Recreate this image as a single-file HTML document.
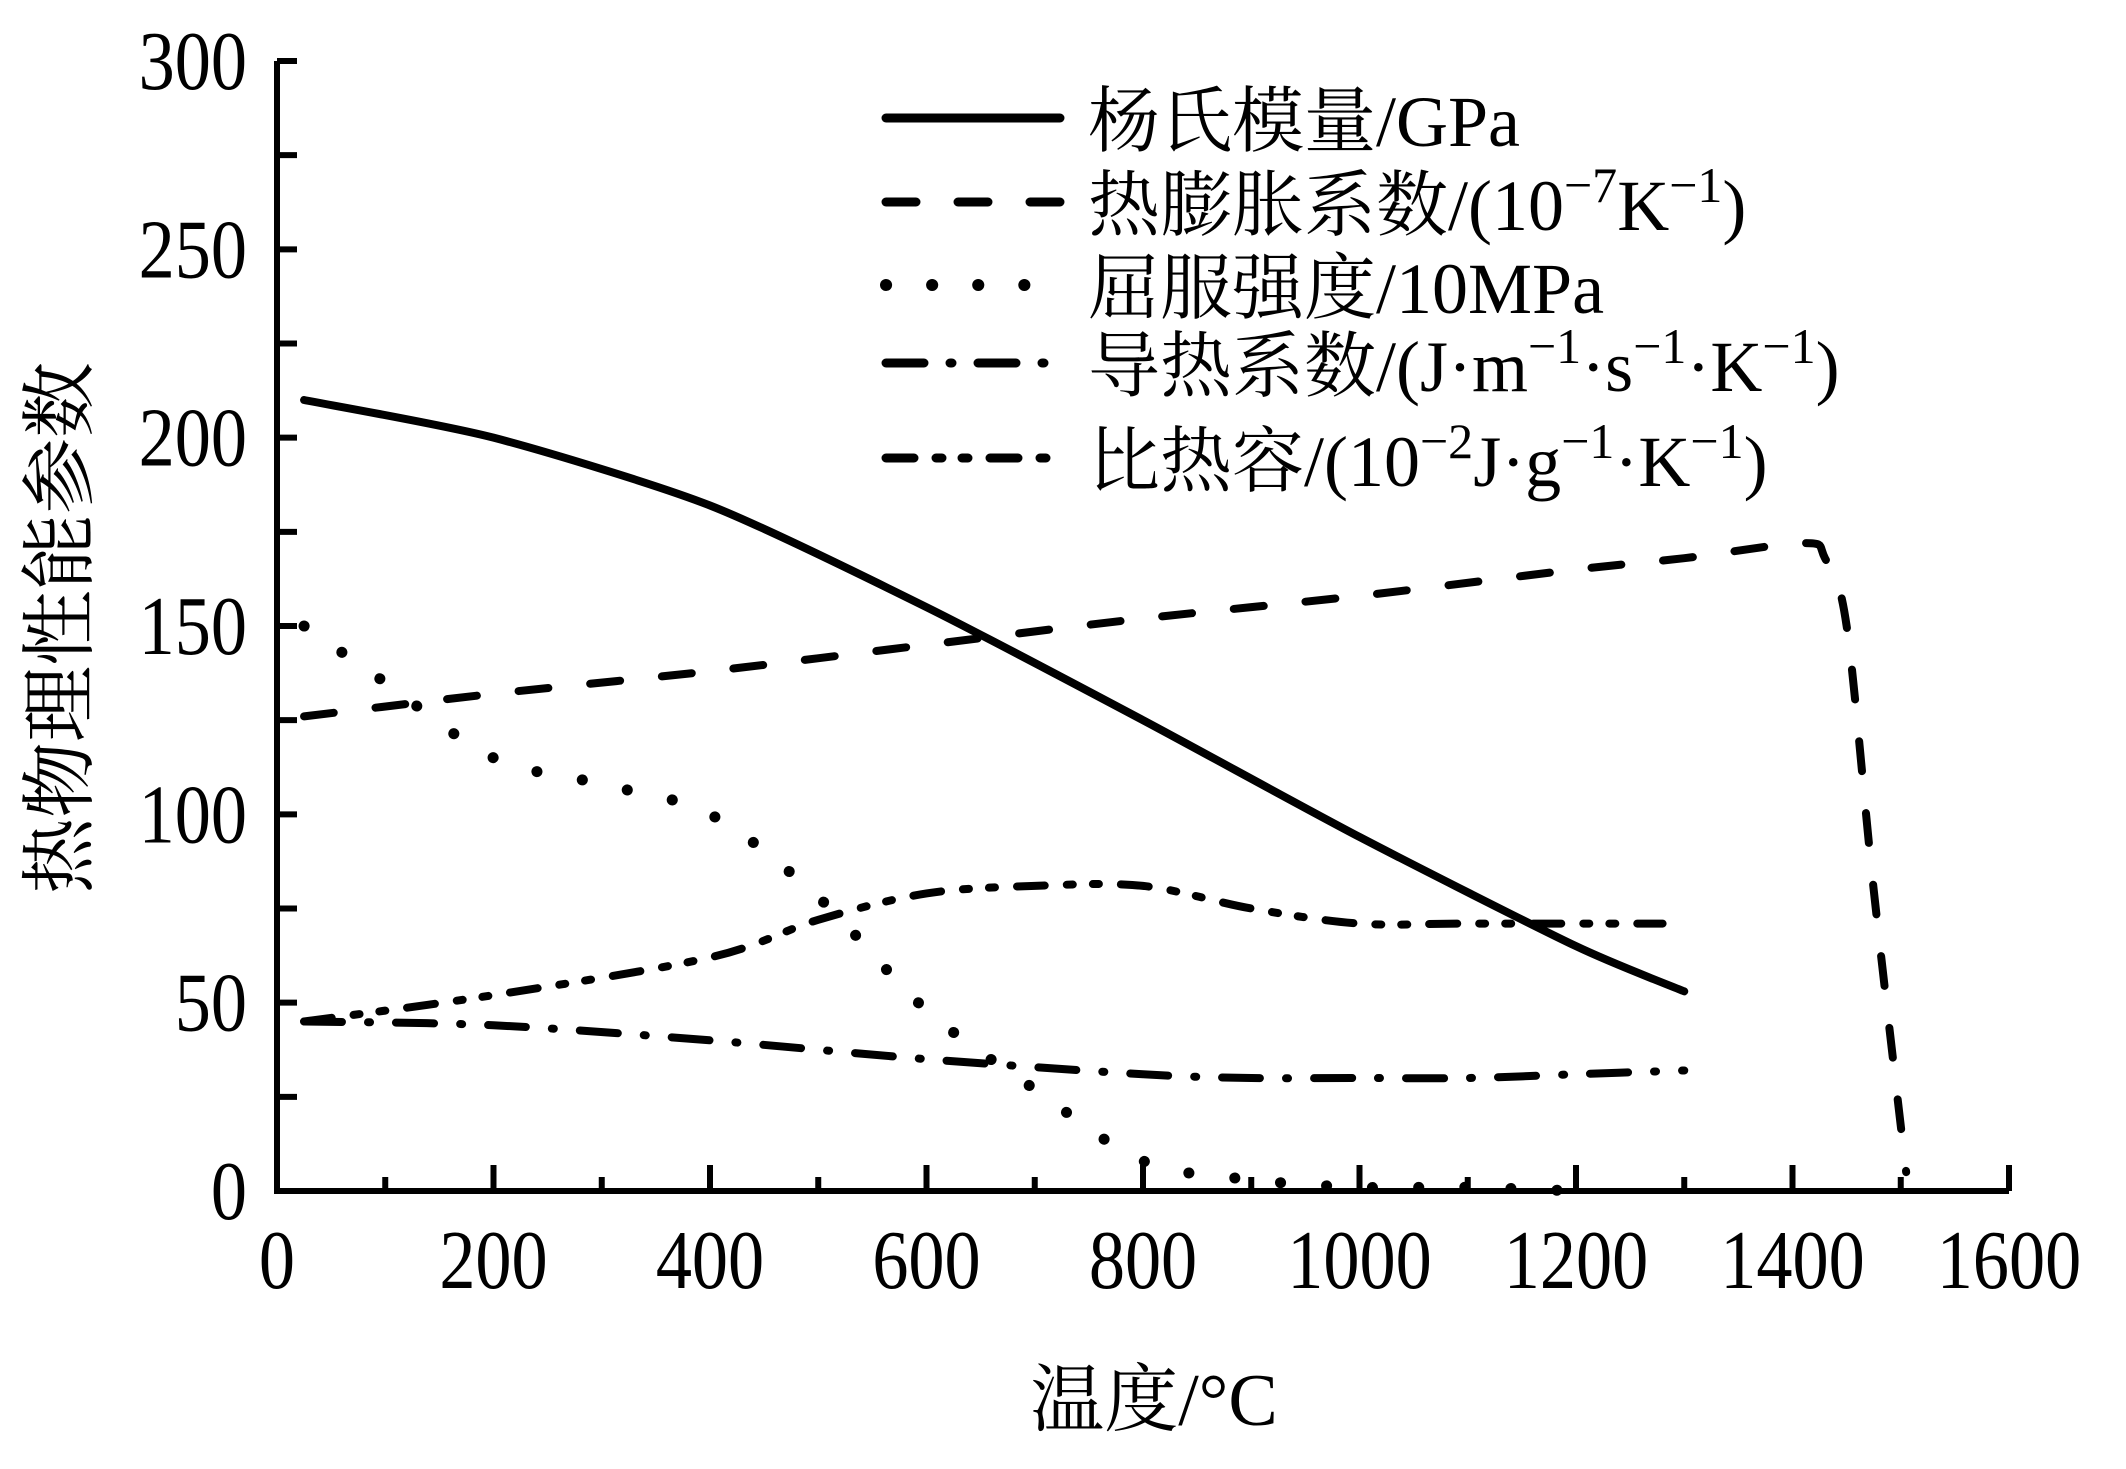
<!DOCTYPE html>
<html><head><meta charset="utf-8"><style>
html,body{margin:0;padding:0;background:#fff;}
svg{display:block;}
text{font-family:"Liberation Serif","Noto Serif CJK SC","Noto Sans CJK SC",serif;fill:#000;}
</style></head><body>
<svg id="chart" width="2126" height="1469" viewBox="0 0 2126 1469" xmlns="http://www.w3.org/2000/svg">
<g id="axes"></g>
<g id="series"></g>
<g id="legend"></g>
<text transform="translate(86,628) rotate(-90)" text-anchor="middle" font-size="76" font-family="Noto Serif CJK SC, Noto Sans CJK SC, serif">热物理性能参数</text>
<text x="1154" y="1425" text-anchor="middle" font-size="74">温度/°C</text>
</svg>
<script>
const xTicks=[0,200,400,600,800,1000,1200,1400,1600];
const yTicks=[0,50,100,150,200,250,300];
const youngX=[25,200,400,600,800,1000,1200,1300];
const youngY=[210,200,182,155,125,94,65,53];
const expX=[25,200,400,600,800,1000,1200,1300,1410,1430,1450,1475,1505];
const expY=[126,132,138,145,152,158,165,168,172,168,150,80,5];
const yieldX=[25,100,200,300,400,500,600,700,800,900,1000,1100,1200];
const yieldY=[150,135,115,108,100,78,48,27,8,3,1,1,0];
const condX=[25,200,400,600,800,900,1000,1100,1200,1300];
const condY=[45,44,40,35,31,30,30,30,31,32];
const heatX=[25,200,400,500,600,700,800,900,1000,1100,1280];
const heatY=[45,52,62,72,79,81,81,75,71,71,71];
const legendLabels=['杨氏模量/GPa','热膨胀系数/(10<tspan baseline-shift="super" font-size="50">−7</tspan>K<tspan baseline-shift="super" font-size="50">−1</tspan>)','屈服强度/10MPa','导热系数/(J·m<tspan baseline-shift="super" font-size="50">−1</tspan>·s<tspan baseline-shift="super" font-size="50">−1</tspan>·K<tspan baseline-shift="super" font-size="50">−1</tspan>)','比热容/(10<tspan baseline-shift="super" font-size="50">−2</tspan>J·g<tspan baseline-shift="super" font-size="50">−1</tspan>·K<tspan baseline-shift="super" font-size="50">−1</tspan>)'];

const X0=277,X1=2009,Y0=1191,Y1=61;
const sx=v=>X0+(v-0)/1600*(X1-X0);
const sy=v=>Y0-(v-0)/300*(Y0-Y1);
const NS='http://www.w3.org/2000/svg';
const SC=0.86;
function mk(tag,attrs,parent){const e=document.createElementNS(NS,tag);for(const k in attrs)e.setAttribute(k,attrs[k]);parent.appendChild(e);return e;}
const axes=document.getElementById('axes');
let a=mk('path',{d:`M${X0},${Y1} V${Y0} H${X1}`,fill:'none',stroke:'#000','stroke-width':6},axes);


for(let v=0;v<=300;v+=25){
  let t=mk('line',{x1:X0,x2:X0+20,y1:sy(v),y2:sy(v),stroke:'#000','stroke-width':6},axes);
  
  
}
yTicks.forEach(v=>{
  let t=mk('text',{x:(X0-30)/SC,y:sy(v)+28,'text-anchor':'end','font-size':84,transform:`scale(${SC},1)`},axes);
  
  
  t.textContent=v;
});
for(let v=0;v<=1600;v+=100){
  const len=(v%200===0)?26:14;
  let t=mk('line',{x1:sx(v),x2:sx(v),y1:Y0,y2:Y0-len,stroke:'#000','stroke-width':6},axes);
  
  
}
xTicks.forEach(v=>{
  let t=mk('text',{x:sx(v)/SC,y:Y0+97,'text-anchor':'middle','font-size':84,transform:`scale(${SC},1)`},axes);
  
  
  t.textContent=v;
});
const styles=[
  {name:'youngs-modulus-line',dash:'',xs:youngX,ys:youngY,w:8,t:0.12},
  {name:'thermal-expansion-line',dash:'30 42',xs:expX,ys:expY,w:8,t:0.16},
  {name:'yield-strength-line',dash:'0.1 46',xs:yieldX,ys:yieldY,w:11,t:0.16},
  {name:'thermal-conductivity-line',dash:'38 26 2 26',xs:condX,ys:condY,w:8,t:0.16},
  {name:'specific-heat-line',dash:'28 22 6 20 6 22',xs:heatX,ys:heatY,w:8,t:0.16}
];
const series=document.getElementById('series');
function smooth(xs,ys,k){
  const p=xs.map((x,i)=>[sx(x),sy(ys[i])]);
  let d=`M${p[0][0]},${p[0][1]}`;
  for(let i=0;i<p.length-1;i++){
    const p0=p[Math.max(0,i-1)],p1=p[i],p2=p[i+1],p3=p[Math.min(p.length-1,i+2)];
    const c1=[p1[0]+(p2[0]-p0[0])*k,p1[1]+(p2[1]-p0[1])*k];
    const c2=[p2[0]-(p3[0]-p1[0])*k,p2[1]-(p3[1]-p1[1])*k];
    d+=` C${c1[0]},${c1[1]} ${c2[0]},${c2[1]} ${p2[0]},${p2[1]}`;
  }
  return d;
}
styles.forEach(s=>{
  let p=mk('path',{d:smooth(s.xs,s.ys,s.t),fill:'none',stroke:'#000','stroke-width':s.w,'stroke-linecap':'round','stroke-linejoin':'round'},series);
  if(s.dash)p.setAttribute('stroke-dasharray',s.dash);
  
  
});
const legend=document.getElementById('legend');
const rowsY=[118,202,285,363,458];
styles.forEach((s,i)=>{
  let l=mk('line',{x1:886,x2:1060,y1:rowsY[i],y2:rowsY[i],stroke:'#000','stroke-width':s.w+1,'stroke-linecap':'round'},legend);
  if(s.dash)l.setAttribute('stroke-dasharray',s.dash);
  
  
  let t=mk('text',{x:1088,y:rowsY[i]+28,'font-size':72},legend);
  t.innerHTML=legendLabels[i];
  
  
});
</script>
</body></html>
